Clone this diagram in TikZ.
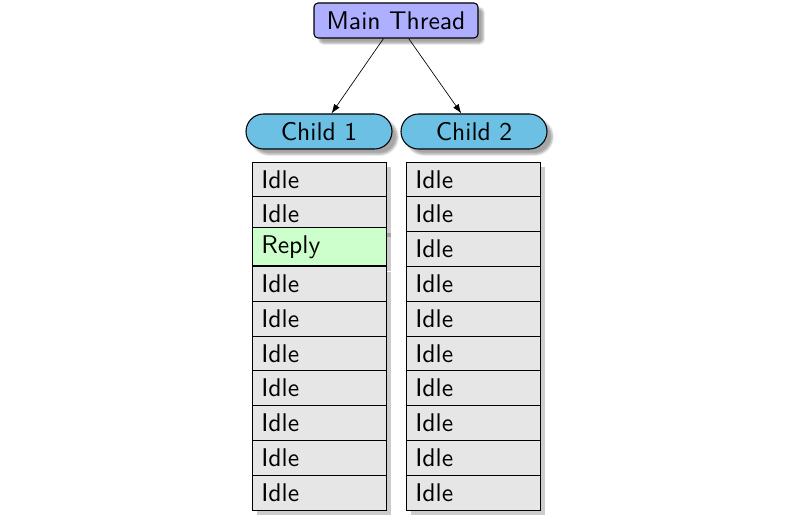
\documentclass[tikz,border=0pt]{standalone}
\usepackage{fontspec}
\setsansfont{lmsans10-regular}[Extension=.otf]
\usetikzlibrary{shapes.misc,shadows,shadows.blur,arrows.meta}
\definecolor{mainfill}{RGB}{175,175,255}
\definecolor{childfill}{RGB}{108,192,228}
\definecolor{cellfill}{RGB}{230,230,230}
\definecolor{replyfill}{RGB}{204,255,204}
\tikzset{
  txt/.style={font=\sffamily\fontsize{19.2}{22}\selectfont},
  mainbox/.style={txt, draw=black, line width=0.8pt, fill=mainfill, rounded corners=3pt,
    minimum width=123pt, minimum height=26.25pt, inner sep=0pt,
    blur shadow={shadow xshift=4pt, shadow yshift=-4pt, shadow blur radius=1.5pt, shadow opacity=35}},
  childbox/.style={txt, draw=black, line width=0.8pt, fill=childfill, rounded rectangle,
    minimum width=109.5pt, minimum height=26.25pt, inner sep=0pt,
    blur shadow={shadow xshift=4pt, shadow yshift=-4pt, shadow blur radius=1.5pt, shadow opacity=35}},
  cell/.style={txt, draw=black, line width=0.7pt, fill=cellfill, rectangle,
    minimum width=100.5pt, minimum height=26.1pt, text width=86.5pt, align=left,
    inner xsep=7pt, inner ysep=0pt,
    drop shadow={shadow xshift=4pt, shadow yshift=-4pt, fill=black, opacity=0.2}},
  replycell/.style={cell, fill=replyfill, minimum height=28.5pt},
  conn/.style={line width=0.5pt, -{Latex[length=7pt,width=5pt]}}
}
\begin{document}
\begin{tikzpicture}[x=0.75pt,y=-0.75pt]
\useasboundingbox (0,0) rectangle (800,517);
\node[mainbox] (main) at (396,20.5) {Main Thread};
\node[childbox] (c1) at (319,131.5) {Child 1};
\node[childbox] (c2) at (474,131.5) {Child 2};
\draw[conn] (main) -- (c1);
\draw[conn] (main) -- (c2);
% left column
\node[cell] (l1) at (319,179.4) {Idle};
\node[cell] (l2) at (319,214.2) {Idle};
\node[replycell, anchor=south] (l3) at (319,266.4) {Reply};
\foreach \i in {4,...,10}{
  \node[cell] (l\i) at (319,{179.4+34.8*(\i-1)}) {Idle};
}
% right column
\foreach \i in {1,...,10}{
  \node[cell] (r\i) at (473,{179.4+34.8*(\i-1)}) {Idle};
}
\end{tikzpicture}
\end{document}
